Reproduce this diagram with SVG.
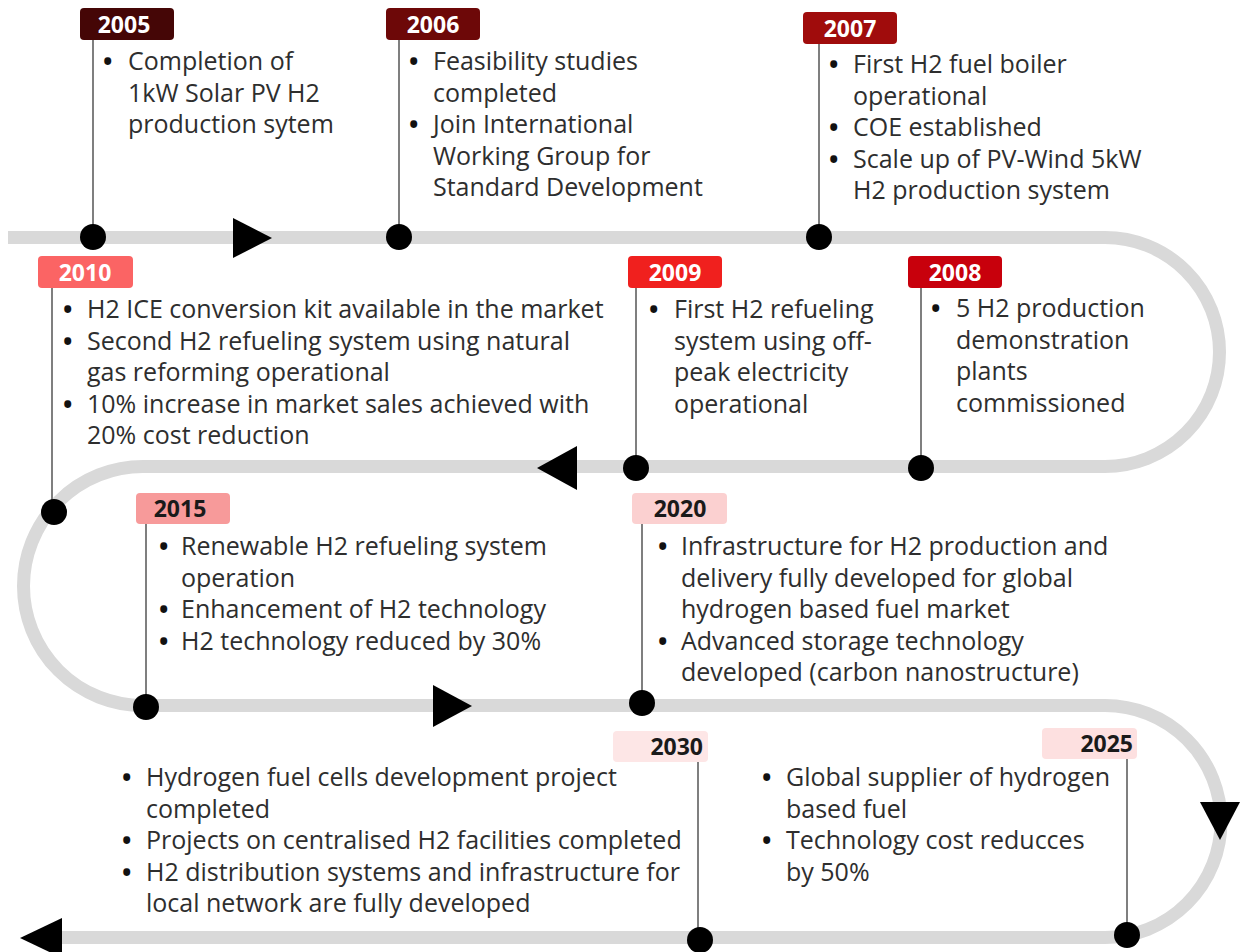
<svg xmlns="http://www.w3.org/2000/svg" width="1240" height="952" viewBox="0 0 1240 952">
  <style>
    .track { fill: none; stroke: #d9d9d9; stroke-width: 13; }
    .stem { stroke: #7f7f7f; stroke-width: 2; }
    .dot { fill: #000; }
    .arrow { fill: #000; }
    .yr { font-family: "Open Sans", "Liberation Sans", sans-serif; font-weight: bold; font-size: 23px; }
    .yr-light { fill: #ffffff; }
    .yr-dark { fill: #1a1a1a; }
    .txt { font-family: "Open Sans", "Liberation Sans", sans-serif; font-size: 25px; fill: #2e2e2e; }
    .blt { font-family: "Open Sans", "Liberation Sans", sans-serif; font-size: 25px; font-weight: bold; fill: #111111; }
  </style>

  <rect width="1240" height="952" fill="#ffffff"/>

  <!-- serpentine track with direction arrows -->
  <g id="connectors">
    <path class="track" d="M 8 237.5 H 1105 A 114.5 114.5 0 0 1 1105 466.5 H 143 A 119.5 119.5 0 0 0 143 705.5 H 1105 A 116 116 0 0 1 1105 937.5 H 40"/>
    <polygon class="arrow" points="233,218 233,258 272,238"/>
    <polygon class="arrow" points="577,446 577,490 537,468"/>
    <polygon class="arrow" points="433,685 433,727 472,706"/>
    <polygon class="arrow" points="1200,802 1240,802 1220,840"/>
    <polygon class="arrow" points="62,918 62,958 20,938"/>
  </g>

  <g id="m2005">
    <line class="stem" x1="93" y1="40" x2="93" y2="237"/>
    <rect x="80" y="8" width="94" height="32" rx="4" fill="#450606"/>
    <text class="yr yr-light" x="124" y="33" text-anchor="middle">2005</text>
    <circle class="dot" cx="93" cy="237" r="13"/>
    <text class="blt" x="103" y="70">•</text>
    <text class="txt" x="128" y="70">Completion of</text>
    <text class="txt" x="128" y="101.5">1kW Solar PV H2</text>
    <text class="txt" x="128" y="133">production sytem</text>
  </g>

  <g id="m2006">
    <line class="stem" x1="399" y1="40" x2="399" y2="237"/>
    <rect x="386" y="8" width="94" height="32" rx="4" fill="#6d0808"/>
    <text class="yr yr-light" x="433" y="33" text-anchor="middle">2006</text>
    <circle class="dot" cx="399" cy="237" r="13"/>
    <text class="blt" x="409" y="70">•</text>
    <text class="txt" x="433" y="70">Feasibility studies</text>
    <text class="txt" x="433" y="101.5">completed</text>
    <text class="blt" x="409" y="133">•</text>
    <text class="txt" x="433" y="133">Join International</text>
    <text class="txt" x="433" y="164.5">Working Group for</text>
    <text class="txt" x="433" y="196">Standard Development</text>
  </g>

  <g id="m2007">
    <line class="stem" x1="819" y1="44" x2="819" y2="237"/>
    <rect x="803" y="12" width="94" height="32" rx="4" fill="#a00c0c"/>
    <text class="yr yr-light" x="850" y="37" text-anchor="middle">2007</text>
    <circle class="dot" cx="819" cy="237" r="13"/>
    <text class="blt" x="829" y="73">•</text>
    <text class="txt" x="853" y="73">First H2 fuel boiler</text>
    <text class="txt" x="853" y="104.5">operational</text>
    <text class="blt" x="829" y="136">•</text>
    <text class="txt" x="853" y="136">COE established</text>
    <text class="blt" x="829" y="167.5">•</text>
    <text class="txt" x="853" y="167.5">Scale up of PV-Wind 5kW</text>
    <text class="txt" x="853" y="199">H2 production system</text>
  </g>

  <g id="m2008">
    <line class="stem" x1="921" y1="288" x2="921" y2="468"/>
    <rect x="908" y="256" width="94" height="32" rx="4" fill="#c8000c"/>
    <text class="yr yr-light" x="955" y="281" text-anchor="middle">2008</text>
    <circle class="dot" cx="921" cy="468" r="13"/>
    <text class="blt" x="931" y="317">•</text>
    <text class="txt" x="956" y="317">5 H2 production</text>
    <text class="txt" x="956" y="348.5">demonstration</text>
    <text class="txt" x="956" y="380">plants</text>
    <text class="txt" x="956" y="411.5">commissioned</text>
  </g>

  <g id="m2009">
    <line class="stem" x1="636" y1="288" x2="636" y2="468"/>
    <rect x="628" y="256" width="94" height="32" rx="4" fill="#f0201e"/>
    <text class="yr yr-light" x="675" y="281" text-anchor="middle">2009</text>
    <circle class="dot" cx="636" cy="468" r="13"/>
    <text class="blt" x="649" y="318">•</text>
    <text class="txt" x="674" y="318">First H2 refueling</text>
    <text class="txt" x="674" y="349.5">system using off-</text>
    <text class="txt" x="674" y="381">peak electricity</text>
    <text class="txt" x="674" y="412.5">operational</text>
  </g>

  <g id="m2010">
    <line class="stem" x1="52" y1="288" x2="52" y2="512"/>
    <rect x="38" y="256" width="95" height="32" rx="4" fill="#fb6464"/>
    <text class="yr yr-light" x="85" y="281" text-anchor="middle">2010</text>
    <circle class="dot" cx="54" cy="512" r="13"/>
    <text class="blt" x="63" y="318">•</text>
    <text class="txt" x="87" y="318">H2 ICE conversion kit available in the market</text>
    <text class="blt" x="63" y="349.5">•</text>
    <text class="txt" x="87" y="349.5">Second H2 refueling system using natural</text>
    <text class="txt" x="87" y="381">gas reforming operational</text>
    <text class="blt" x="63" y="412.5">•</text>
    <text class="txt" x="87" y="412.5">10% increase in market sales achieved with</text>
    <text class="txt" x="87" y="444">20% cost reduction</text>
  </g>

  <g id="m2015">
    <line class="stem" x1="146" y1="524" x2="146" y2="707"/>
    <rect x="136" y="493" width="94" height="31" rx="4" fill="#f79a9a"/>
    <text class="yr yr-dark" x="180" y="517" text-anchor="middle">2015</text>
    <circle class="dot" cx="146" cy="707" r="13"/>
    <text class="blt" x="159" y="555">•</text>
    <text class="txt" x="181" y="555">Renewable H2 refueling system</text>
    <text class="txt" x="181" y="586.5">operation</text>
    <text class="blt" x="159" y="618">•</text>
    <text class="txt" x="181" y="618">Enhancement of H2 technology</text>
    <text class="blt" x="159" y="649.5">•</text>
    <text class="txt" x="181" y="649.5">H2 technology reduced by 30%</text>
  </g>

  <g id="m2020">
    <line class="stem" x1="642" y1="524" x2="642" y2="703"/>
    <rect x="632" y="493" width="95" height="31" rx="4" fill="#fbd0d0"/>
    <text class="yr yr-dark" x="680" y="517" text-anchor="middle">2020</text>
    <circle class="dot" cx="642" cy="703" r="13"/>
    <text class="blt" x="658" y="555">•</text>
    <text class="txt" x="681" y="555">Infrastructure for H2 production and</text>
    <text class="txt" x="681" y="586.5">delivery fully developed for global</text>
    <text class="txt" x="681" y="618">hydrogen based fuel market</text>
    <text class="blt" x="658" y="649.5">•</text>
    <text class="txt" x="681" y="649.5">Advanced storage technology</text>
    <text class="txt" x="681" y="681">developed (carbon nanostructure)</text>
  </g>

  <g id="m2025">
    <line class="stem" x1="1127" y1="759" x2="1127" y2="935"/>
    <rect x="1042" y="728" width="95" height="31" rx="4" fill="#fde0e0"/>
    <text class="yr yr-dark" x="1133" y="752" text-anchor="end">2025</text>
    <circle class="dot" cx="1127" cy="935" r="13"/>
    <text class="blt" x="762" y="786">•</text>
    <text class="txt" x="786" y="786">Global supplier of hydrogen</text>
    <text class="txt" x="786" y="817.5">based fuel</text>
    <text class="blt" x="762" y="849">•</text>
    <text class="txt" x="786" y="849">Technology cost reducces</text>
    <text class="txt" x="786" y="880.5">by 50%</text>
  </g>

  <g id="m2030">
    <line class="stem" x1="698" y1="762" x2="698" y2="940"/>
    <rect x="613" y="731" width="95" height="31" rx="4" fill="#fde6e6"/>
    <text class="yr yr-dark" x="703" y="755" text-anchor="end">2030</text>
    <circle class="dot" cx="700" cy="940" r="13"/>
    <text class="blt" x="122" y="786">•</text>
    <text class="txt" x="146" y="786">Hydrogen fuel cells development project</text>
    <text class="txt" x="146" y="817.5">completed</text>
    <text class="blt" x="122" y="849">•</text>
    <text class="txt" x="146" y="849">Projects on centralised H2 facilities completed</text>
    <text class="blt" x="122" y="880.5">•</text>
    <text class="txt" x="146" y="880.5">H2 distribution systems and infrastructure for</text>
    <text class="txt" x="146" y="912">local network are fully developed</text>
  </g>
</svg>
